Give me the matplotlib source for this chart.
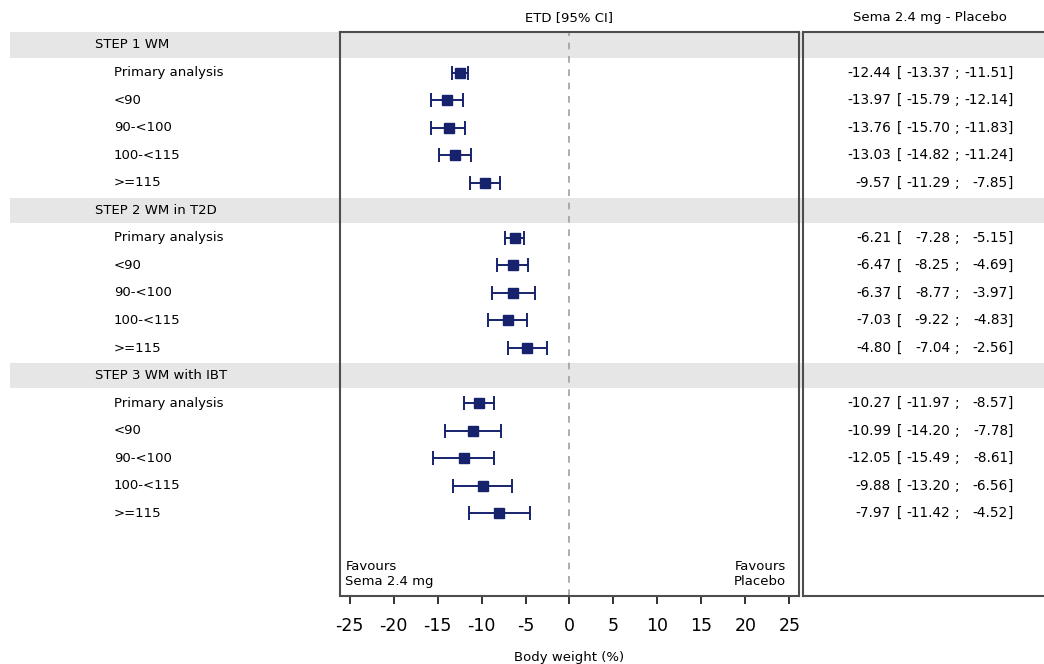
import numpy as np
import matplotlib
matplotlib.use("Agg")
import matplotlib.pyplot as plt

# Subgroup estimates of treatment difference (ETD) with 95% CI
trials = ["STEP 1 WM", "STEP 2 WM in T2D", "STEP 3 WM with IBT"]
subgroups = ["Primary analysis", "<90", "90-<100", "100-<115", ">=115"]

etd = [
    [-12.44, -13.97, -13.76, -13.03, -9.57],
    [-6.21, -6.47, -6.37, -7.03, -4.80],
    [-10.27, -10.99, -12.05, -9.88, -7.97],
]
ci_low = [
    [-13.37, -15.79, -15.70, -14.82, -11.29],
    [-7.28, -8.25, -8.77, -9.22, -7.04],
    [-11.97, -14.20, -15.49, -13.20, -11.42],
]
ci_high = [
    [-11.51, -12.14, -11.83, -11.24, -7.85],
    [-5.15, -4.69, -3.97, -4.83, -2.56],
    [-8.57, -7.78, -8.61, -6.56, -4.52],
]
xticks = [-25, -20, -15, -10, -5, 0, 5, 10, 15, 20, 25]

W, H = 1044, 664
NAVY = "#16226b"
BAND = "#e6e6e6"
EDGE = "#4d4d4d"
YLIM = (20.0, -0.47)
FS = 9.5
FS_VAL = 9.8

plt.rcParams["font.family"] = ["DejaVu Sans"]


def px_rect(x0, y0, x1, y1):
    # figure rectangle from pixel corners (origin top-left)
    return [x0 / W, 1 - y1 / H, (x1 - x0) / W, (y1 - y0) / H]


fig = plt.figure(figsize=(W / 100, H / 100), dpi=100)

# background layer: grey header bands + row labels
bg = fig.add_axes(px_rect(0, 32, W, 596), zorder=0)
bg.set_xlim(0, W)
bg.set_ylim(*YLIM)
bg.axis("off")

ax = fig.add_axes(px_rect(340, 32, 799, 596), zorder=2)
ax.set_facecolor("none")
ax.set_xlim(-26.1, 26.1)
ax.set_ylim(*YLIM)

tx = fig.add_axes(px_rect(803, 32, W + 5, 596), zorder=2)
tx.set_facecolor("none")
tx.set_xlim(803, W + 5)
tx.set_ylim(*YLIM)
tx.set_xticks([])
tx.set_yticks([])

row = 0
for t, name in enumerate(trials):
    bg.axhspan(row - 0.46, row + 0.46, xmin=10 / W, xmax=1, color=BAND, lw=0)
    bg.text(95, row, name, ha="left", va="center", fontsize=FS)
    est = np.array(etd[t])
    lo = np.array(ci_low[t])
    hi = np.array(ci_high[t])
    ys = np.arange(row + 1, row + 1 + len(subgroups))
    ax.errorbar(est, ys, xerr=[est - lo, hi - est], fmt="s", color=NAVY,
                ms=7, elinewidth=1.4, capsize=5, capthick=1.4)
    for y, lab, e, l, h in zip(ys, subgroups, est, lo, hi):
        bg.text(114, y, lab, ha="left", va="center", fontsize=FS)
        # columns: estimate | [ low ; | high ]
        tx.text(891, y, f"{e:.2f}", ha="right", va="center", fontsize=FS_VAL)
        tx.text(897, y, "[", ha="left", va="center", fontsize=FS_VAL)
        tx.text(950, y, f"{l:.2f}", ha="right", va="center", fontsize=FS_VAL)
        tx.text(955, y, ";", ha="left", va="center", fontsize=FS_VAL)
        tx.text(1008, y, f"{h:.2f}", ha="right", va="center", fontsize=FS_VAL)
        tx.text(1008, y, "]", ha="left", va="center", fontsize=FS_VAL)
    row += len(subgroups) + 1

ax.axvline(0, color="#a0a0a0", ls=(0, (4, 4)), lw=1.2, zorder=1)

ax.set_yticks([])
ax.set_xticks(xticks)
ax.set_xticklabels([str(v) for v in xticks], fontsize=12.5)
ax.tick_params(axis="x", length=6, width=1.3, color="#222222", pad=9)
for sp in ax.spines.values():
    sp.set_color(EDGE)
    sp.set_linewidth(1.5)
for side in ("left", "top", "bottom"):
    tx.spines[side].set_color(EDGE)
    tx.spines[side].set_linewidth(1.5)
tx.spines["right"].set_visible(False)

ax.text(-25.5, 19.2, "Favours\nSema 2.4 mg", ha="left", va="center",
        fontsize=FS, linespacing=1.15)
ax.text(24.6, 19.2, "Favours\nPlacebo", ha="right", va="center",
        fontsize=FS, linespacing=1.15, multialignment="right")

fig.text(569 / W, 1 - 18 / H, "ETD [95% CI]", ha="center", va="center", fontsize=9.5)
fig.text(930 / W, 1 - 18 / H, "Sema 2.4 mg - Placebo", ha="center", va="center", fontsize=9.5)
fig.text(569 / W, 1 - 657 / H, "Body weight (%)", ha="center", va="center", fontsize=9.5)

fig.savefig("out.png", dpi=100)
